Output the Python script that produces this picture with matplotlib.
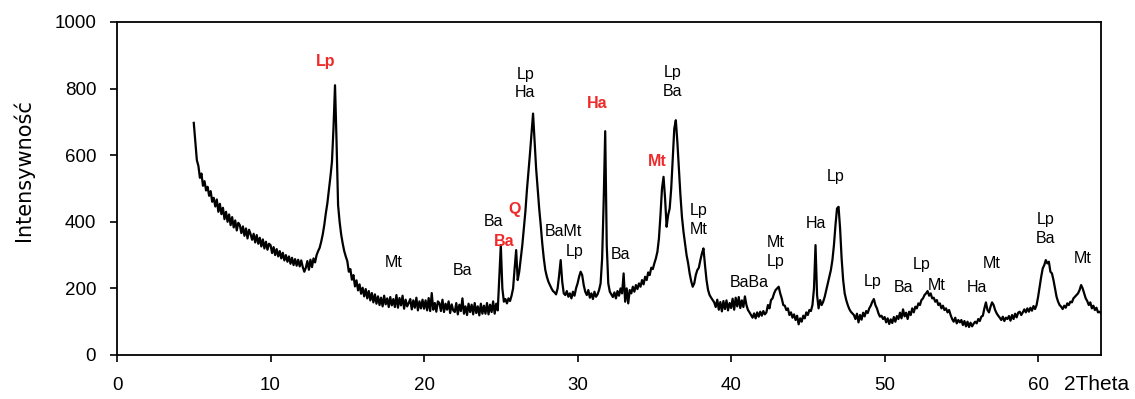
import numpy as np
import matplotlib
matplotlib.use("Agg")
import matplotlib.pyplot as plt

# scan 5.0 - 64.1 deg 2Theta, step 0.1 (one row = 1 degree)
intensity = [
    697, 642, 585, 568, 532, 545, 508, 522, 494, 505,   # 5
    478, 492, 460, 472, 446, 467, 430, 454, 423, 442,   # 6
    408, 430, 400, 422, 390, 414, 383, 404, 374, 397,   # 7
    390, 366, 386, 358, 380, 350, 376, 363, 346, 364,   # 8
    338, 360, 334, 352, 326, 347, 320, 340, 316, 334,   # 9
    330, 306, 324, 300, 318, 296, 312, 290, 307, 284,   # 10
    300, 280, 296, 274, 292, 270, 288, 268, 286, 266,   # 11
    284, 264, 250, 262, 282, 256, 286, 264, 290, 278,   # 12
    300, 312, 322, 340, 362, 390, 425, 455, 495, 535,   # 13
    580, 680, 810, 640, 450, 400, 362, 335, 312, 296,   # 14
    282, 250, 258, 226, 240, 206, 224, 194, 212, 184,   # 15
    202, 176, 198, 170, 192, 164, 186, 158, 182, 154,   # 16
    176, 150, 172, 146, 178, 152, 170, 144, 174, 149,   # 17
    168, 144, 180, 142, 171, 149, 178, 139, 166, 146,   # 18
    156, 168, 137, 164, 142, 172, 134, 161, 140, 166,   # 19
    139, 164, 134, 171, 132, 186, 136, 156, 130, 161,   # 20
    156, 132, 166, 129, 154, 136, 161, 126, 152, 134,   # 21
    129, 156, 122, 151, 132, 170, 124, 146, 120, 154,   # 22
    129, 151, 122, 156, 126, 146, 119, 154, 124, 148,   # 23
    124, 156, 122, 151, 129, 161, 124, 154, 134, 235,   # 24
    330, 200, 160, 168, 155, 170, 162, 178, 200, 260,   # 25
    315, 225, 250, 290, 330, 380, 430, 495, 550, 605,   # 26
    665, 725, 640, 560, 500, 440, 390, 335, 290, 255,   # 27
    235, 220, 210, 200, 192, 188, 182, 200, 240, 285,   # 28
    220, 185, 180, 192, 175, 185, 170, 190, 178, 200,   # 29
    215, 235, 250, 240, 210, 190, 180, 195, 172, 185,   # 30
    168, 190, 175, 182, 195, 215, 290, 460, 672, 330,   # 31
    215, 190, 182, 174, 188, 170, 192, 178, 200, 185,   # 32
    245, 160, 200, 155, 195, 185, 205, 190, 210, 198,   # 33
    215, 205, 225, 212, 235, 225, 248, 240, 262, 258,   # 34
    275, 290, 310, 350, 420, 500, 535, 470, 385, 420,   # 35
    440, 500, 590, 680, 705, 640, 560, 480, 414, 370,   # 36
    335, 300, 276, 245, 222, 205, 215, 240, 255, 262,   # 37
    285, 305, 320, 270, 225, 195, 180, 172, 165, 158,   # 38
    144, 166, 136, 159, 131, 162, 138, 164, 134, 156,   # 39
    141, 169, 136, 172, 146, 174, 141, 164, 144, 176,   # 40
    150, 135, 128, 120, 112, 125, 110, 128, 115, 130,   # 41
    118, 132, 122, 128, 150, 140, 165, 170, 185, 195,   # 42
    200, 205, 185, 170, 150, 148, 135, 140, 120, 128,   # 43
    112, 122, 105, 118, 92, 110, 100, 118, 110, 128,    # 44
    120, 135, 132, 150, 200, 330, 180, 140, 165, 150,   # 45
    160, 175, 195, 215, 235, 255, 285, 330, 390, 440,   # 46
    445, 380, 290, 225, 185, 165, 150, 138, 130, 125,   # 47
    120, 108, 124, 98, 120, 106, 127, 116, 132, 126,    # 48
    140, 148, 160, 168, 150, 140, 125, 115, 118, 108,   # 49
    114, 98, 110, 93, 107, 96, 114, 100, 117, 108,      # 50
    127, 110, 137, 116, 127, 108, 130, 120, 140, 128,   # 51
    145, 140, 155, 150, 165, 170, 180, 185, 192, 178,   # 52
    185, 170, 172, 160, 165, 150, 155, 140, 148, 135,   # 53
    140, 128, 135, 120, 108, 100, 112, 95, 105, 98,     # 54
    105, 90, 102, 86, 100, 84, 97, 86, 94, 100,         # 55
    95, 108, 102, 115, 118, 140, 158, 135, 128, 145,    # 56
    158, 150, 135, 125, 118, 112, 105, 115, 102, 112,   # 57
    108, 117, 103, 120, 108, 124, 113, 127, 130, 120,   # 58
    128, 137, 128, 140, 130, 142, 133, 147, 138, 150,   # 59
    175, 205, 235, 260, 270, 285, 275, 280, 250, 245,   # 60
    225, 200, 175, 160, 150, 145, 138, 148, 142, 155,   # 61
    150, 160, 158, 170, 175, 180, 185, 195, 210, 200,   # 62
    185, 170, 162, 150, 158, 140, 148, 135, 142, 128,   # 63
    130, 125,                                           # 64
]
twoTheta = np.round(np.arange(5.0, 5.0 + 0.1 * len(intensity) - 0.05, 0.1), 1)

# phase labels: text, 2Theta, intensity, red/bold
labelText = ["Lp", "Mt", "Ba", "Ba", "Q", "Ba", "Lp\nHa", "BaMt", "Lp", "Ha",
             "Ba", "Mt", "Lp\nBa", "Lp\nMt", "BaBa", "Mt\nLp", "Ha", "Lp",
             "Lp", "Ba", "Lp", "Mt", "Ha", "Mt", "Lp\nBa", "Mt"]
labelX = [13.6, 18.0, 22.5, 24.5, 25.9, 25.2, 26.6, 29.05, 29.8, 31.3,
          32.8, 35.2, 36.2, 37.9, 41.2, 42.9, 45.5, 46.8,
          49.2, 51.2, 52.4, 53.4, 56.0, 57.0, 60.5, 62.9]
labelY = [882, 279, 255, 402, 438, 342, 815, 372, 312, 756,
          303, 582, 820, 406, 219, 309, 396, 537,
          222, 204, 273, 210, 204, 276, 378, 291]
labelRed = [True, False, False, False, True, True, False, False, False, True,
            False, True, False, False, False, False, False, False,
            False, False, False, False, False, False, False, False]

plt.rcParams['font.family'] = ['Liberation Sans', 'DejaVu Sans']

fig = plt.figure(figsize=(11.35, 3.99), dpi=100)
ax = fig.add_axes([0.1031, 0.1103, 0.8670, 0.8346])

ax.plot(twoTheta, intensity, color="black", linewidth=1.6)

for txt, x, y, red in zip(labelText, labelX, labelY, labelRed):
    ax.text(x, y, txt, ha="center", va="center", fontsize=11.5,
            color="#ee2a2a" if red else "black",
            fontweight="bold" if red else "normal", linespacing=1.3)

ax.set_xlim(0, 64.1)
ax.set_ylim(0, 1000)
ax.set_xticks(range(0, 61, 10))
ax.set_yticks(range(0, 1001, 200))
ax.tick_params(direction="out", length=5, width=1.2, labelsize=13.5)
ax.tick_params(axis="y", pad=10)
ax.tick_params(axis="x", pad=11)
for side in ["left", "bottom", "right", "top"]:
    ax.spines[side].set_linewidth(1.3)

fig.text(23 / 1135, 1 - 170 / 399, "Intensywność", rotation=90, ha="center", va="center",
         fontsize=15, family="DejaVu Sans")
fig.text(1097 / 1135, 1 - 385 / 399, "2Theta", ha="center", va="center", fontsize=15)

fig.savefig("out.png", dpi=100)
